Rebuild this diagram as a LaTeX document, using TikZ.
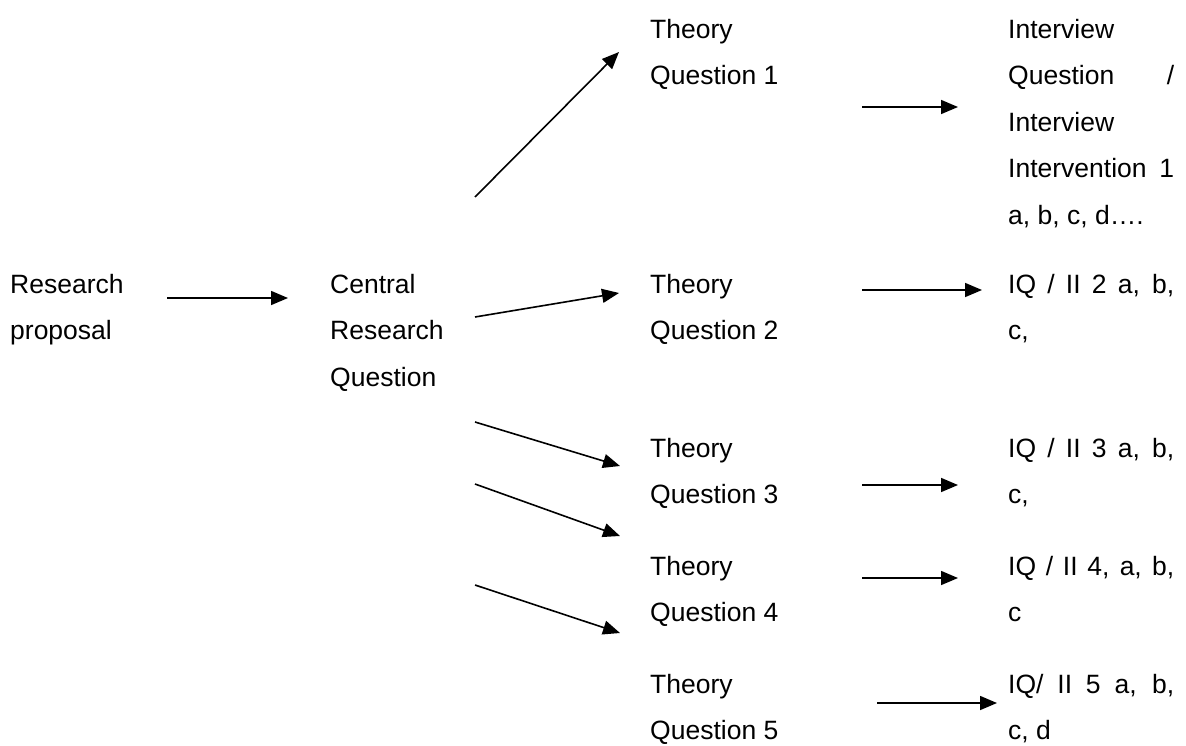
\documentclass[tikz,border=0pt]{standalone}
\usepackage{fontspec}
\setmainfont{Liberation Sans}
\usetikzlibrary{arrows.meta}
\newcommand{\fullline}[1]{\makebox[166pt][s]{#1}}

\begin{document}
\begin{tikzpicture}[x=1pt, y=-1pt,
	txt/.style={anchor=north west, inner sep=0pt, align=left, font=\fontsize{26.5}{46.5}\selectfont},
	arr/.style={-{Triangle[length=17pt,width=14pt]}, line width=1.6pt}]
	\useasboundingbox (0,0) rectangle (1186,745);
	% text blocks
	\node[txt] (rp)  at (10,274)  {Research\\proposal};
	\node[txt] (crq) at (330,274) {Central\\Research\\Question};
	\node[txt] (tq1) at (650,19)  {Theory\\Question 1};
	\node[txt] (tq2) at (650,274) {Theory\\Question 2};
	\node[txt] (tq3) at (650,438) {Theory\\Question 3};
	\node[txt] (tq4) at (650,556) {Theory\\Question 4};
	\node[txt] (tq5) at (650,674) {Theory\\Question 5};
	\node[txt] (iq1) at (1008,19) {Interview\\\fullline{Question /}\\Interview\\\fullline{Intervention 1}\\a, b, c, d….};
	\node[txt] (iq2) at (1008,274) {\fullline{IQ / II 2 a, b,}\\c,};
	\node[txt] (iq3) at (1008,438) {\fullline{IQ / II 3 a, b,}\\c,};
	\node[txt] (iq4) at (1008,556) {\fullline{IQ / II 4, a, b,}\\c};
	\node[txt] (iq5) at (1008,674) {\fullline{IQ/ II 5 a, b,}\\c, d};
	% arrow ends
	\foreach \n/\x/\y in {rp-out/167/298, crq-in/288/298,
		crq-o1/475/197, tq1-in/619/52, crq-o2/475/317, tq2-in/619/293,
		crq-o3/475/422, tq3-in/620/466, crq-o4/475/484, tq4-in/620/536,
		crq-o5/475/585, tq5-in/620/633,
		tq1-out/862/107, iq1-in/958/107, tq2-out/862/290, iq2-in/982/290,
		tq3-out/862/485, iq3-in/958/485, tq4-out/862/578, iq4-in/958/578,
		tq5-out/877/703, iq5-in/997/703}
		\coordinate (\n) at (\x,\y);
	\foreach \a/\b in {rp-out/crq-in, crq-o1/tq1-in, crq-o2/tq2-in, crq-o3/tq3-in,
		crq-o4/tq4-in, crq-o5/tq5-in, tq1-out/iq1-in, tq2-out/iq2-in,
		tq3-out/iq3-in, tq4-out/iq4-in, tq5-out/iq5-in}
		\draw[arr] (\a) -- (\b);
\end{tikzpicture}
\end{document}
